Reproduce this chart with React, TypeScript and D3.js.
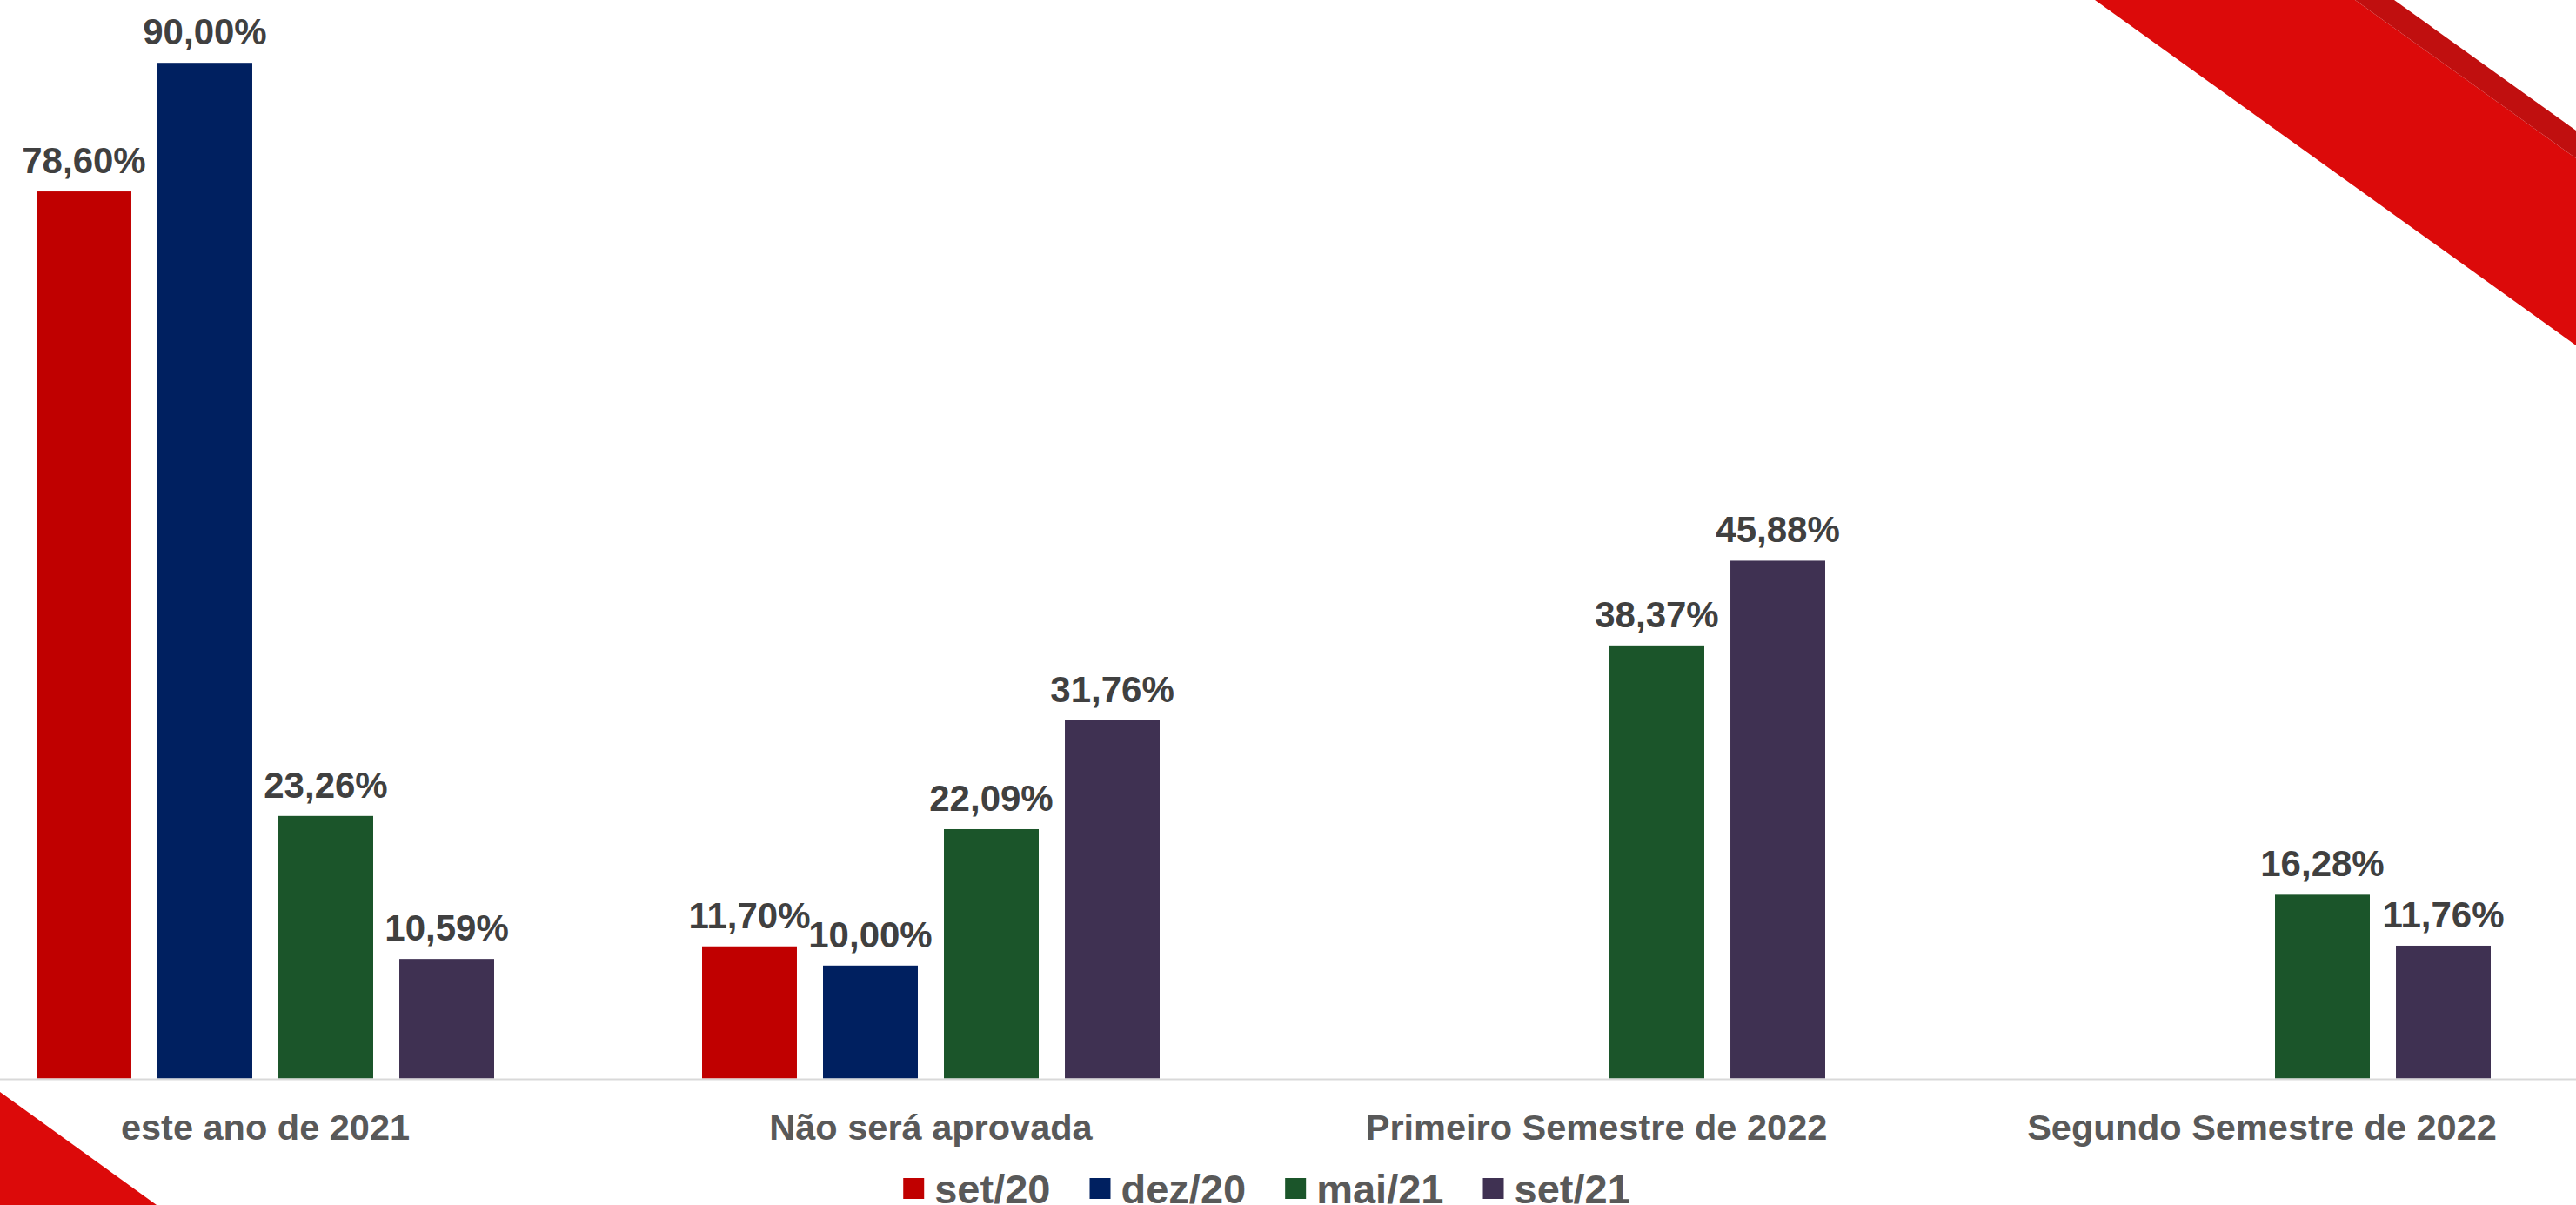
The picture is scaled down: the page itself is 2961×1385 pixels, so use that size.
import React from "react";
import * as d3 from "d3";

const categories = [
  "este ano de 2021",
  "Não será aprovada",
  "Primeiro Semestre de 2022",
  "Segundo Semestre de 2022",
];
const seriesNames = ["set/20", "dez/20", "mai/21", "set/21"];
const set20 = [78.6, 11.7, null, null];
const dez20 = [90.0, 10.0, null, null];
const mai21 = [23.26, 22.09, 38.37, 16.28];
const set21 = [10.59, 31.76, 45.88, 11.76];
const seriesColors = ["#C00000", "#002060", "#1B552A", "#3F3152"];

const W = 2961;
const H = 1385;
const FONT = '"Liberation Sans", Arial, Helvetica, sans-serif';

const seriesValues: (number | null)[][] = [set20, dez20, mai21, set21];

const fmt = (v: number) => d3.format(".2f")(v).replace(".", ",") + "%";

function measure(text: string, font: string): number {
  const c = document.createElement("canvas");
  const ctx = c.getContext("2d")!;
  ctx.font = font;
  return ctx.measureText(text).width;
}

export default function App() {
  React.useEffect(() => {
    document.body.style.margin = "0";
    document.body.style.overflow = "hidden";
  }, []);

  const x0 = d3
    .scaleBand<string>()
    .domain(categories)
    .range([-77.5, 2982.5])
    .paddingInner(0)
    .paddingOuter(0);
  const groupSpan = 526;
  const x1 = d3
    .scaleBand<string>()
    .domain(seriesNames)
    .range([0, groupSpan])
    .paddingInner(0.216)
    .paddingOuter(0);
  const y = d3.scaleLinear().domain([0, 100]).range([1239.5, 1239.5 - 1297]);

  const legendFont = `bold 47px ${FONT}`;
  const sq = 24;
  const sqGap = 12;
  const itemGap = 45;
  const widths = seriesNames.map((s) => measure(s, legendFont));
  const totalLegend =
    widths.reduce((a, b) => a + b, 0) + seriesNames.length * (sq + sqGap) + (seriesNames.length - 1) * itemGap;
  let lx = 1456 - totalLegend / 2;
  const legendItems = seriesNames.map((s, i) => {
    const item = { name: s, x: lx, color: seriesColors[i] };
    lx += sq + sqGap + widths[i] + itemGap;
    return item;
  });

  return (
    <svg
      width={W}
      height={H}
      style={{ position: "absolute", left: 0, top: 0, background: "#fff" }}
      fontFamily={FONT}
    >
      <rect x={0} y={0} width={W} height={H} fill="#ffffff" />
      {/* decorations */}
      <polygon points="2408,0 2707,0 2961,182 2961,397" fill="#DC0A0A" />
      <polygon points="2707,0 2752,0 2961,150 2961,182" fill="#C00F0F" />
      <polygon points="0,1255 180,1385 0,1385" fill="#DC0A0A" />

      {/* bars */}
      {categories.map((cat, ci) => {
        const gx = x0(cat)! + x0.bandwidth() / 2 - groupSpan / 2;
        return (
          <g key={cat} transform={`translate(${gx},0)`}>
            {seriesNames.map((s, si) => {
              const v = seriesValues[si][ci];
              if (v == null) return null;
              const bx = x1(s)!;
              return (
                <g key={s}>
                  <rect
                    x={bx}
                    y={y(v)}
                    width={x1.bandwidth()}
                    height={y(0) - y(v)}
                    fill={seriesColors[si]}
                  />
                  <text
                    x={bx + x1.bandwidth() / 2}
                    y={y(v) - 21}
                    textAnchor="middle"
                    fontSize={42}
                    fontWeight="bold"
                    fill="#404040"
                  >
                    {fmt(v)}
                  </text>
                </g>
              );
            })}
          </g>
        );
      })}

      {/* baseline */}
      <line x1={0} x2={W} y1={1240.5} y2={1240.5} stroke="#D9D9D9" strokeWidth={2} />

      {/* category labels */}
      {categories.map((cat) => (
        <text
          key={cat}
          x={x0(cat)! + x0.bandwidth() / 2}
          y={1310}
          textAnchor="middle"
          fontSize={41.5}
          fontWeight="bold"
          fill="#595959"
        >
          {cat}
        </text>
      ))}

      {/* legend */}
      {legendItems.map((it) => (
        <g key={it.name}>
          <rect x={it.x} y={1354} width={sq} height={sq} fill={it.color} />
          <text
            x={it.x + sq + sqGap}
            y={1383}
            fontSize={47}
            fontWeight="bold"
            fill="#595959"
          >
            {it.name}
          </text>
        </g>
      ))}
    </svg>
  );
}
